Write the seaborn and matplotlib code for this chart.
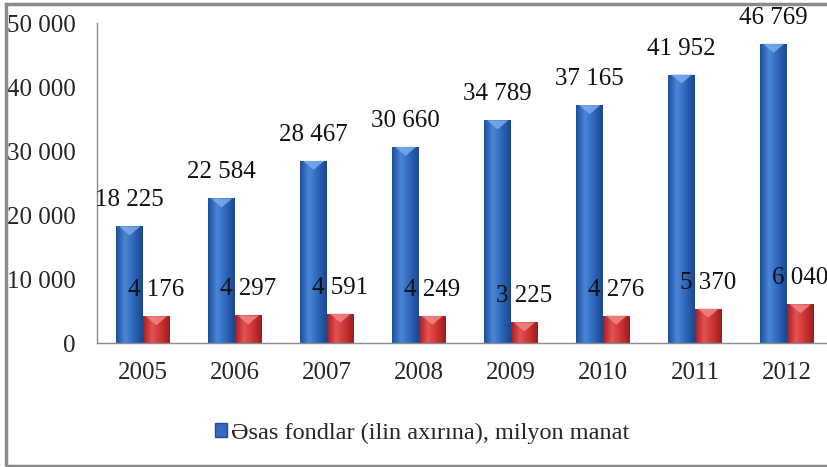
import numpy as np
import pandas as pd
import matplotlib
matplotlib.use("Agg")
import matplotlib.pyplot as plt
from matplotlib.colors import LinearSegmentedColormap
from matplotlib.patches import Patch, Rectangle, Polygon
import seaborn as sns

years = ["2005", "2006", "2007", "2008", "2009", "2010", "2011", "2012"]
fixed_assets = [18225, 22584, 28467, 30660, 34789, 37165, 41952, 46769]
second_series = [4176, 4297, 4591, 4249, 3225, 4276, 5370, 6040]
legend_label = "Əsas fondlar (ilin axırına), milyon manat"

df = pd.DataFrame({
    "year": years * 2,
    "value": fixed_assets + second_series,
    "series": ["fixed"] * len(years) + ["other"] * len(years),
})

sns.set_style("white")
plt.rcParams["font.family"] = ["Liberation Serif", "DejaVu Serif"]

blue, red = "#3469BD", "#D23A3A"
fs = 18
fig = plt.figure(figsize=(8.27, 4.67), dpi=100)
ax = fig.add_axes([97 / 827, 124 / 467, 736 / 827, 320 / 467])

sns.barplot(data=df, x="year", y="value", hue="series", palette=[blue, red],
            width=0.58, saturation=1, legend=False, ax=ax)

ax.set_xlim(-0.5, 7.5)
ax.set_ylim(0, 50000)

# cylinder-like shading on each bar, with a light bevel on top
cmaps = [
    LinearSegmentedColormap.from_list("b", ["#1E4F9C", "#4A86D8", "#2D66BA", "#1B4690"]),
    LinearSegmentedColormap.from_list("r", ["#A61E1E", "#E45252", "#CC3434", "#9E1C1C"]),
]
caps = ["#7FB0EE", "#F28A8A"]
cap_h = 50000 / 320 * 9  # ~9 px in data units
grad = np.linspace(0, 1, 64).reshape(1, -1)
for cont, cmap, cap in zip(ax.containers, cmaps, caps):
    for p in cont:
        x0, w, h = p.get_x(), p.get_width(), p.get_height()
        im = ax.imshow(grad, extent=[x0, x0 + w, 0, h], aspect="auto",
                       cmap=cmap, zorder=p.get_zorder() + 0.1)
        im.set_clip_path(p)
        ax.add_patch(Polygon([(x0 + w * 0.1, h), (x0 + w * 0.9, h), (x0 + w / 2, h - cap_h)],
                             closed=True, facecolor=cap, edgecolor="none", alpha=0.8,
                             zorder=p.get_zorder() + 0.2))
        ax.annotate(f"{int(h):,}".replace(",", " "), (x0 + w / 2, h),
                    xytext=(0, 26), textcoords="offset pixels",
                    ha="center", va="center", fontsize=fs, color="#111111")

ax.set_xlim(-0.5, 7.5)
ax.set_ylim(0, 50000)
ax.set_yticks(range(0, 50001, 10000))
ax.set_yticklabels([f"{v:,}".replace(",", " ") if v else "0" for v in range(0, 50001, 10000)])
ax.set_xticks(range(len(years)))
ax.set_xticklabels(years)
ax.set_xticks(np.arange(-0.5, 7.6, 1), minor=True)
ax.tick_params(axis="x", which="major", length=0, pad=14, labelsize=fs)
ax.tick_params(axis="x", which="minor", length=6, width=1, color="#8C8C8C", direction="out")
ax.tick_params(axis="y", length=6.5, width=1, color="#8C8C8C", direction="out",
               pad=9, labelsize=fs)
ax.set_xlabel("")
ax.set_ylabel("")
for side in ["top", "right"]:
    ax.spines[side].set_visible(False)
for side in ["left", "bottom"]:
    ax.spines[side].set_color("#8C8C8C")
    ax.spines[side].set_linewidth(1)

fig.legend(handles=[Patch(facecolor=blue, edgecolor="#1E4F9C")], labels=[legend_label],
           loc="center left", bbox_to_anchor=(205 / 827, 1 - 433 / 467),
           frameon=False, fontsize=17.5, handlelength=0.5, handleheight=0.5,
           handletextpad=0.15, borderaxespad=0)

# outer chart frame
fig.patches.append(Rectangle((6 / 827, 1.5 / 467), 1.2, 1 - 5 / 467,
                             transform=fig.transFigure, fill=False,
                             edgecolor="#8A8A8A", linewidth=2.5))

fig.savefig("out.png", dpi=100)
